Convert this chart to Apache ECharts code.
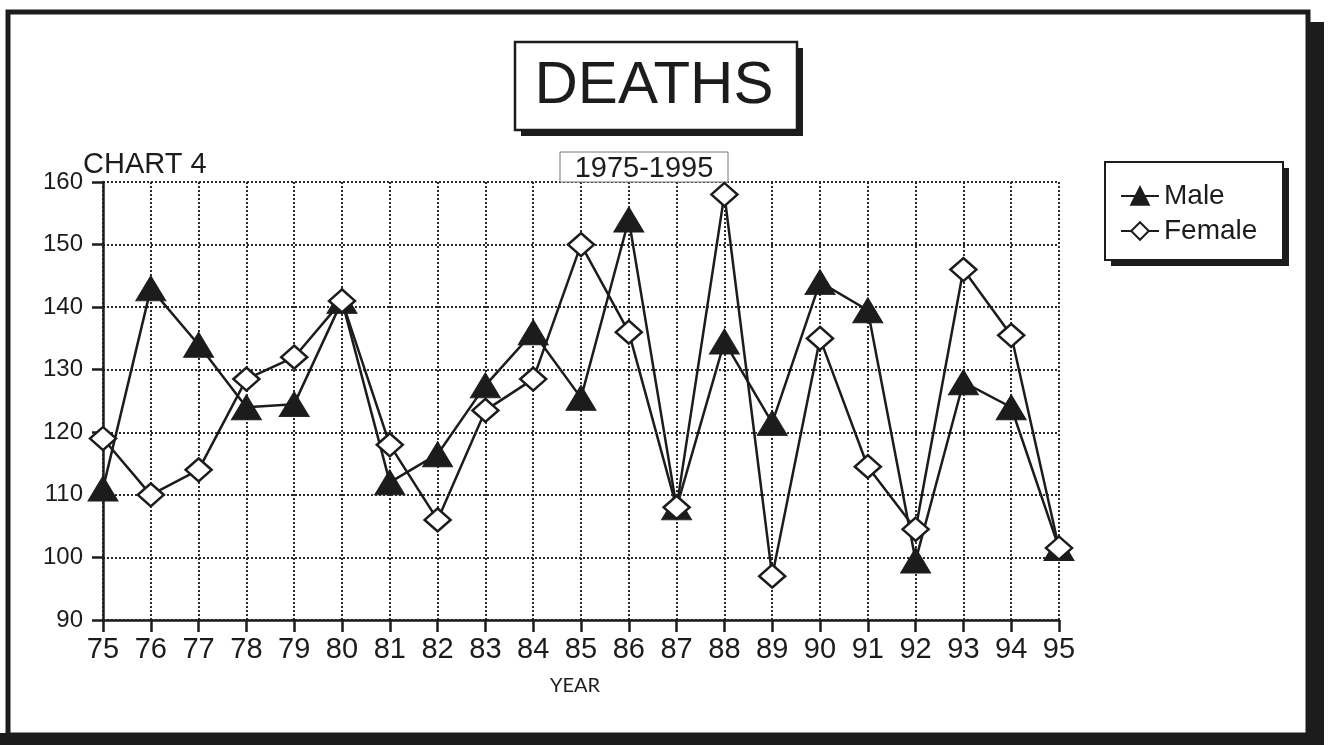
<!DOCTYPE html>
<html>
<head>
<meta charset="utf-8">
<title>Deaths 1975-1995</title>
<script src="https://cdn.jsdelivr.net/npm/echarts@6/dist/echarts.min.js"></script>
<style>
    html, body { margin: 0; padding: 0; background: #fff; }
    #chart { width: 1328px; height: 745px; }
</style>
</head>
<body>
<div id="chart"></div>
<script>
(function () {
    // data
    var years = ['75', '76', '77', '78', '79', '80', '81', '82', '83', '84', '85',
        '86', '87', '88', '89', '90', '91', '92', '93', '94', '95'];
    var male = [111, 143, 134, 124, 124.5, 141, 112, 116.5, 127.5, 136, 125.5,
        154, 108, 134.5, 121.5, 144, 139.5, 99.5, 128, 124, 101.5];
    var female = [119, 110, 114, 128.5, 132, 141, 118, 106, 123.5, 128.5, 150,
        136, 108, 158, 97, 135, 114.5, 104.5, 146, 135.5, 101.5];
    var yTicks = { min: 90, max: 160, step: 10 };

    var font = '"Liberation Sans", Arial, sans-serif';
    var ink = '#1c1c1c';

    /**
     * box with a solid drop shadow
     */
    var shadowBox = function (x, y, w, h, off, lw, stroke) {
        var out = [];
        if (off > 0) {
            out.push({
                type: 'rect', z: 0,
                shape: { x: x + off, y: y + off, width: w, height: h },
                style: { fill: ink }
            });
        }
        out.push({
            type: 'rect', z: 1,
            shape: { x: x, y: y, width: w, height: h },
            style: { fill: '#fff', stroke: stroke || ink, lineWidth: lw }
        });
        return out;
    };

    var graphics = [];
    // outer frame + shadow
    graphics.push({ type: 'rect', z: 0, shape: { x: 1306, y: 22, width: 18, height: 723 }, style: { fill: ink } });
    graphics.push({ type: 'rect', z: 0, shape: { x: 0, y: 733, width: 1324, height: 12 }, style: { fill: ink } });
    graphics.push({ type: 'rect', z: 0, shape: { x: 8, y: 12, width: 1300, height: 723 },
        style: { fill: 'none', stroke: ink, lineWidth: 5 } });

    graphics = graphics.concat(shadowBox(515, 42, 282, 88, 6, 2.5));
    graphics = graphics.concat(shadowBox(560, 152, 168, 30, 0, 1, '#777'));
    graphics = graphics.concat(shadowBox(1105, 162, 178, 98, 6, 2));

    graphics.push({ type: 'text', z: 2, style: { text: 'DEATHS', x: 654, y: 86, align: 'center', verticalAlign: 'middle',
        font: '60px ' + font, fill: ink } });
    graphics.push({ type: 'text', z: 2, style: { text: '1975-1995', x: 644, y: 169, align: 'center', verticalAlign: 'middle',
        font: '29px ' + font, fill: ink } });
    graphics.push({ type: 'text', z: 2, style: { text: 'CHART 4', x: 83, y: 165, align: 'left', verticalAlign: 'middle',
        font: '29px ' + font, fill: ink } });
    graphics.push({ type: 'text', z: 2, style: { text: 'YEAR', x: 575, y: 686, align: 'center', verticalAlign: 'middle',
        font: '20px Lato, ' + font, fill: ink } });

    var gridLine = { color: '#2a2a2a', width: 2, type: [2, 2] };

    var chart = echarts.init(document.getElementById('chart'));
    chart.setOption({
        backgroundColor: '#fff',
        animation: false,
        graphic: graphics,
        legend: {
            orient: 'vertical',
            left: 1115,
            top: 177,
            itemWidth: 38,
            itemHeight: 22,
            itemGap: 7,
            textStyle: { fontFamily: font, fontSize: 28, color: ink },
            data: ['Male', 'Female']
        },
        grid: { left: 103, top: 182, width: 956, height: 438, containLabel: false },
        xAxis: {
            type: 'category',
            data: years,
            boundaryGap: false,
            axisLine: { lineStyle: { color: ink, width: 2.5 } },
            axisTick: { length: 12, lineStyle: { color: ink, width: 2.5 } },
            axisLabel: { fontFamily: font, fontSize: 29, color: ink, margin: 15 },
            splitLine: { show: true, lineStyle: gridLine }
        },
        yAxis: {
            type: 'value',
            min: yTicks.min,
            max: yTicks.max,
            interval: yTicks.step,
            axisLine: { show: true, lineStyle: { color: ink, width: 2.5 } },
            axisTick: { show: true, length: 11, lineStyle: { color: ink, width: 2.5 } },
            axisLabel: { fontFamily: font, fontSize: 24, color: ink, margin: 20 },
            splitLine: { show: true, lineStyle: gridLine }
        },
        series: [
            {
                name: 'Male',
                type: 'line',
                data: male,
                symbol: 'triangle',
                symbolSize: [30, 25],
                lineStyle: { color: ink, width: 2.5 },
                itemStyle: { color: ink, borderColor: ink, borderWidth: 1 }
            },
            {
                name: 'Female',
                type: 'line',
                data: female,
                symbol: 'diamond',
                symbolSize: [26, 23],
                lineStyle: { color: ink, width: 2.5 },
                itemStyle: { color: '#fff', borderColor: ink, borderWidth: 2.5 }
            }
        ]
    });
})();
</script>
</body>
</html>
